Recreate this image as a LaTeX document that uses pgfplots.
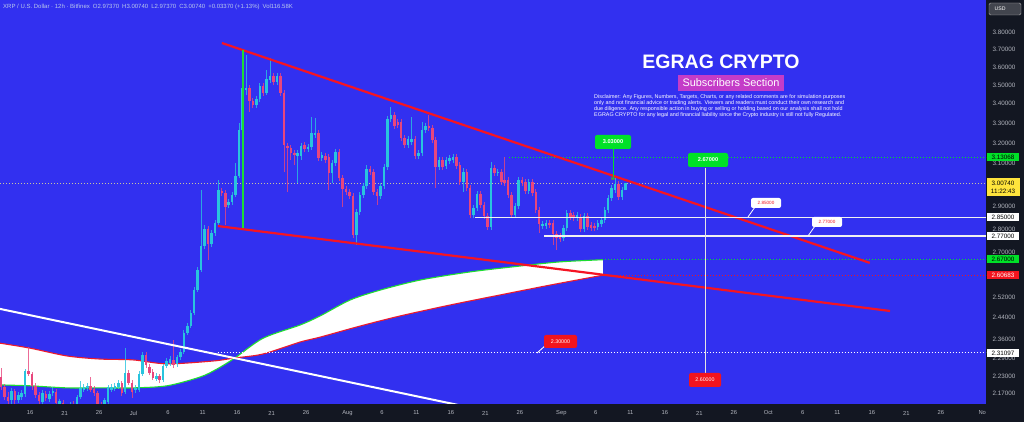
\documentclass[border=0pt]{standalone}
\usepackage{fontspec}
\setmainfont{Liberation Sans}
\usepackage{pgfplots}
\usepackage{pgfplotstable}
\pgfplotsset{compat=1.18}
\usepgfplotslibrary{fillbetween}

\definecolor{bgblue}{RGB}{50,48,240}
\definecolor{panel}{RGB}{19,23,34}
\definecolor{axistext}{RGB}{178,181,190}
\definecolor{upc}{RGB}{41,196,222}
\definecolor{dnc}{RGB}{232,70,125}
\definecolor{trendred}{RGB}{245,20,35}
\definecolor{bandgreen}{RGB}{30,220,50}
\definecolor{bandred}{RGB}{235,25,45}
\definecolor{lblgreen}{RGB}{0,225,40}
\definecolor{lblred}{RGB}{242,20,30}
\definecolor{lblyellow}{RGB}{255,228,60}
\definecolor{magbox}{RGB}{196,60,200}
\definecolor{dotgray}{RGB}{200,195,160}
\definecolor{headtext}{RGB}{185,200,235}

% 12h candles: d = day counted from 1 June, wick top, body top, body bottom, wick bottom
\pgfplotstableread{
d wt bt bb wb
13.3 2.189 2.179 2.148 2.135
14.3 2.175 2.165 2.148 2.138
14.8 2.182 2.172 2.158 2.148
15.3 2.254 2.247 2.168 2.158
17.8 2.182 2.172 2.141 2.131
18.8 2.179 2.168 2.151 2.141
19.3 2.192 2.179 2.172 2.162
20.3 2.151 2.145 2.128 2.115
21.8 2.141 2.131 2.118 2.108
22.8 2.165 2.158 2.131 2.122
23.3 2.213 2.189 2.158 2.151
23.8 2.202 2.192 2.182 2.175
24.3 2.206 2.196 2.189 2.179
26.8 2.155 2.148 2.131 2.118
27.3 2.199 2.192 2.141 2.135
27.8 2.202 2.192 2.182 2.175
28.3 2.206 2.196 2.185 2.179
28.8 2.216 2.206 2.192 2.185
29.8 2.328 2.240 2.175 2.168
31.3 2.199 2.189 2.182 2.172
31.8 2.247 2.236 2.182 2.175
32.3 2.314 2.304 2.236 2.230
34.3 2.240 2.230 2.219 2.213
35.3 2.272 2.264 2.216 2.209
35.8 2.293 2.282 2.264 2.257
36.3 2.300 2.289 2.275 2.264
37.3 2.304 2.296 2.272 2.261
37.8 2.325 2.314 2.296 2.286
38.3 2.394 2.383 2.314 2.307
38.8 2.421 2.409 2.383 2.376
39.3 2.470 2.459 2.409 2.402
39.8 2.559 2.547 2.459 2.451
40.3 2.640 2.628 2.547 2.539
40.8 2.975 2.727 2.628 2.620
41.3 2.818 2.800 2.727 2.714
42.3 2.796 2.783 2.736 2.723
42.8 2.839 2.826 2.783 2.770
43.3 3.021 2.975 2.826 2.818
44.8 2.934 2.920 2.907 2.893
45.3 2.966 2.952 2.920 2.907
45.8 3.102 3.040 2.952 2.943
46.3 3.301 3.265 3.040 3.030
46.8 3.696 3.485 3.265 3.255
47.3 3.668 3.485 3.474 3.447
48.8 3.442 3.425 3.394 3.378
49.3 3.512 3.496 3.425 3.410
50.3 3.583 3.534 3.458 3.447
50.8 3.650 3.550 3.528 3.512
51.8 3.567 3.550 3.517 3.501
54.8 3.165 3.150 3.136 3.007
55.3 3.200 3.185 3.136 3.116
56.3 3.195 3.180 3.170 3.155
56.8 3.332 3.250 3.180 3.165
57.3 3.326 3.250 3.240 3.225
58.3 3.155 3.140 3.126 3.111
59.8 3.116 3.102 3.054 3.007
60.3 3.170 3.155 3.102 3.087
63.3 2.889 2.875 2.774 2.732
63.8 2.966 2.952 2.875 2.862
64.3 3.007 2.993 2.952 2.938
64.8 3.092 3.073 2.993 2.980
66.8 3.007 2.993 2.947 2.934
67.3 3.097 3.082 2.993 2.980
67.8 3.337 3.321 3.082 3.068
68.3 3.384 3.342 3.321 3.306
70.8 3.235 3.220 3.190 3.175
71.3 3.332 3.220 3.205 3.190
72.3 3.165 3.150 3.136 3.121
72.8 3.306 3.265 3.150 3.136
73.3 3.301 3.285 3.265 3.250
75.3 3.131 3.116 3.082 3.068
76.3 3.131 3.116 3.087 3.073
76.8 3.141 3.126 3.111 3.097
77.3 3.146 3.131 3.116 3.102
78.8 3.078 3.059 3.012 2.966
80.3 2.907 2.893 2.862 2.848
80.8 2.970 2.957 2.893 2.880
82.8 3.107 3.078 2.809 2.796
83.8 3.073 3.059 3.054 3.040
86.3 2.916 2.902 2.862 2.848
86.8 3.035 3.021 2.902 2.889
88.3 3.026 3.012 2.970 2.957
90.3 2.835 2.822 2.813 2.800
90.8 2.839 2.826 2.813 2.800
93.3 2.818 2.805 2.762 2.749
93.8 2.884 2.871 2.805 2.792
95.3 2.875 2.862 2.848 2.835
96.3 2.871 2.857 2.800 2.787
98.3 2.839 2.826 2.809 2.796
98.8 2.853 2.839 2.822 2.809
99.3 2.898 2.884 2.839 2.826
99.8 2.952 2.938 2.884 2.871
100.3 2.998 2.984 2.938 2.925
100.8 3.030 3.002 2.975 2.961
101.8 2.989 2.975 2.943 2.929
102.3 3.0074 3.0074 2.9737 2.9737
}\upcandles

\pgfplotstableread{
d wt bt bb wb
11.8 2.257 2.226 2.192 2.182
12.3 2.202 2.192 2.158 2.148
12.8 2.175 2.158 2.145 2.128
13.8 2.185 2.179 2.148 2.131
15.8 2.332 2.247 2.236 2.230
16.3 2.243 2.236 2.196 2.182
16.8 2.206 2.196 2.165 2.155
17.3 2.175 2.165 2.145 2.128
18.3 2.179 2.168 2.155 2.145
19.8 2.185 2.175 2.138 2.125
20.8 2.148 2.138 2.122 2.108
21.3 2.135 2.128 2.115 2.105
22.3 2.145 2.135 2.122 2.112
24.8 2.226 2.196 2.182 2.175
25.3 2.196 2.185 2.172 2.162
25.8 2.179 2.172 2.131 2.115
26.3 2.141 2.131 2.118 2.108
29.3 2.213 2.206 2.172 2.162
30.3 2.250 2.240 2.206 2.199
30.8 2.216 2.206 2.175 2.155
32.8 2.314 2.304 2.268 2.257
33.3 2.272 2.261 2.240 2.233
33.8 2.254 2.243 2.223 2.216
34.8 2.236 2.230 2.216 2.206
36.8 2.357 2.286 2.268 2.257
41.8 2.813 2.800 2.736 2.669
43.8 2.984 2.970 2.961 2.947
44.3 2.975 2.961 2.898 2.818
47.8 3.501 3.485 3.415 3.358
48.3 3.431 3.415 3.394 3.378
49.8 3.512 3.496 3.458 3.442
51.3 3.567 3.550 3.517 3.501
52.3 3.567 3.550 3.458 3.442
52.8 3.474 3.458 3.190 3.059
53.3 3.200 3.185 3.175 2.966
53.8 3.190 3.175 3.150 3.116
54.3 3.165 3.150 3.140 3.092
55.8 3.205 3.190 3.170 3.155
57.8 3.265 3.250 3.126 3.111
58.8 3.150 3.136 3.116 3.102
59.3 3.146 3.131 3.054 2.975
60.8 3.170 3.155 3.030 3.016
61.3 3.044 3.030 2.980 2.898
61.8 2.993 2.980 2.966 2.952
62.3 2.980 2.966 2.947 2.934
62.8 2.961 2.947 2.774 2.762
65.3 3.087 3.073 3.059 3.044
65.8 3.073 3.059 2.966 2.952
66.3 2.980 2.966 2.947 2.907
68.8 3.358 3.342 3.285 3.270
69.3 3.321 3.306 3.290 3.275
69.8 3.321 3.306 3.225 3.210
70.3 3.240 3.225 3.190 3.175
71.8 3.235 3.220 3.136 3.121
73.8 3.342 3.285 3.275 3.260
74.3 3.290 3.275 3.215 3.200
74.8 3.230 3.215 3.082 2.984
75.8 3.131 3.116 3.082 3.068
77.8 3.146 3.131 3.087 3.073
78.3 3.107 3.092 3.012 2.998
79.3 3.073 3.059 2.984 2.970
79.8 2.998 2.984 2.862 2.848
81.3 2.970 2.957 2.907 2.893
81.8 2.920 2.907 2.857 2.844
82.3 2.871 2.857 2.809 2.796
83.3 3.092 3.078 3.054 3.040
84.3 3.073 3.059 3.012 2.998
84.8 3.131 3.021 3.007 2.993
85.3 3.035 3.021 2.952 2.938
85.8 2.966 2.952 2.862 2.848
87.3 3.035 3.021 3.007 2.993
87.8 3.026 3.012 2.970 2.957
88.8 3.026 3.012 2.961 2.947
89.3 2.980 2.966 2.884 2.871
89.8 2.898 2.884 2.822 2.783
91.3 2.839 2.826 2.818 2.805
91.8 2.839 2.826 2.779 2.732
92.3 2.792 2.779 2.762 2.710
92.8 2.783 2.770 2.757 2.744
94.3 2.884 2.871 2.853 2.839
94.8 2.875 2.862 2.848 2.835
95.8 2.866 2.853 2.800 2.787
96.8 2.871 2.857 2.809 2.796
97.3 2.830 2.818 2.805 2.792
97.8 2.826 2.813 2.805 2.792
101.3 3.016 3.002 2.943 2.929
}\downcandles

% band edges of the indicator
\pgfplotstableread{
d g
11.65 2.199
16.0 2.196
21.36 2.189
26.14 2.189
30.93 2.189
35.85 2.196
40.64 2.226
43.1 2.254
45.71 2.293
49.77 2.364
55.13 2.413
58.03 2.447
62.37 2.508
66.72 2.547
72.52 2.587
79.77 2.620
87.01 2.644
92.81 2.661
99.04 2.670
}\greenedge
\pgfplotstableread{
d r
11.65 2.346
16.0 2.328
21.36 2.300
26.14 2.289
30.93 2.286
35.85 2.272
42.52 2.282
45.71 2.293
49.77 2.307
55.13 2.350
58.03 2.368
63.83 2.409
69.62 2.447
76.87 2.489
84.11 2.528
91.36 2.567
99.04 2.60683
}\rededge

\newcommand\drawcandles[3]{%
  \pgfplotstablegetrowsof{#1}%
  \pgfmathtruncatemacro\nrows{\pgfplotsretval-1}%
  \pgfplotsforeachungrouped \ci in {0,...,\nrows}{%
    \pgfplotstablegetelem{\ci}{d}\of#1\let\cD\pgfplotsretval
    \pgfplotstablegetelem{\ci}{wt}\of#1\let\cWT\pgfplotsretval
    \pgfplotstablegetelem{\ci}{bt}\of#1\let\cBT\pgfplotsretval
    \pgfplotstablegetelem{\ci}{bb}\of#1\let\cBB\pgfplotsretval
    \pgfplotstablegetelem{\ci}{wb}\of#1\let\cWB\pgfplotsretval
    \edef\tmp{\noexpand\addplot[#2] coordinates {(\cD,\cWB) (\cD,\cWT)};%
      \noexpand\addplot[#3] coordinates {(\cD,\cBB) (\cD,\cBT)};}%
    \tmp}}

\newcommand\pxfont{\fontsize{6.3}{7}\selectfont}
\newcommand\datefont{\fontsize{5.8}{6.5}\selectfont}

\begin{document}
\begin{tikzpicture}
% dark price and time panels (kept off the plot area, which sits on lower layers)
\fill[panel] (986pt,0) rectangle (1024pt,422pt);
\fill[panel] (0,0) rectangle (986pt,18pt);
\begin{axis}[
  at={(0pt,18pt)}, anchor=south west,
  width=986pt, height=404pt, scale only axis,
  xmin=11.65, xmax=154.55,
  ymode=log, ymin=2.135, ymax=3.994,
  axis background/.style={fill=bgblue},
  axis line style={draw=none}, major tick length=0pt, tick style={draw=none},
  xtick={16,21,26,31,36,41,46,51,56,62,67,72,77,82,87,93,98,103,108,113,118,123,128,133,138,143,148,154},
  xticklabels={16,21,26,Jul,6,11,16,21,26,Aug,6,11,16,21,26,Sep,6,11,16,21,26,Oct,6,11,16,21,26,No},
  xticklabel style={font=\datefont, text=axistext, anchor=center, yshift=-9pt},
  ytick={3.8,3.7,3.6,3.5,3.4,3.3,3.2,3.1,2.9,2.8,2.7,2.52,2.44,2.36,2.29,2.23,2.17},
  yticklabels={3.80000,3.70000,3.60000,3.50000,3.40000,3.30000,3.20000,3.10000,2.90000,2.80000,2.70000,2.52000,2.44000,2.36000,2.29000,2.23000,2.17000},
  yticklabel pos=right,
  yticklabel style={font=\pxfont, text=axistext, anchor=center, xshift=18pt},
  upwick/.style={draw=upc, line width=0.8pt, opacity=0.8, forget plot},
  upbody/.style={draw=upc, line width=2.5pt, forget plot},
  dnwick/.style={draw=dnc, line width=0.8pt, opacity=0.8, forget plot},
  dnbody/.style={draw=dnc, line width=2.5pt, forget plot},
]
% indicator band
\addplot[draw=none, name path=gband, smooth] table[x=d, y=g] {\greenedge};
\addplot[draw=none, name path=rband, smooth] table[x=d, y=r] {\rededge};
\addplot[white] fill between[of=gband and rband];
\addplot[bandgreen, line width=1.1pt, smooth] table[x=d, y=g] {\greenedge};
\addplot[bandred, line width=1.1pt, smooth] table[x=d, y=r] {\rededge};
% horizontal price lines
\addplot[dotgray, line width=0.8pt, dash pattern=on 1pt off 2pt] coordinates {(11.65,3.0074) (154.55,3.0074)};
\addplot[lblgreen, line width=0.8pt, dash pattern=on 1pt off 2pt] coordinates {(85.4,3.13068) (154.55,3.13068)};
\addplot[lblgreen, line width=0.8pt, dash pattern=on 1pt off 2pt] coordinates {(99.3,2.67) (154.55,2.67)};
\addplot[lblred, line width=0.8pt, dash pattern=on 1pt off 2pt] coordinates {(99.3,2.60683) (154.55,2.60683)};
\addplot[white, line width=0.8pt, dash pattern=on 1pt off 2pt] coordinates {(43.2,2.31097) (154.55,2.31097)};
% candles
\drawcandles{\upcandles}{upwick}{upbody}
\drawcandles{\downcandles}{dnwick}{dnbody}
% trend lines
\addplot[white, line width=2pt] coordinates {(11.65,2.474) (84.1,2.103)};
\addplot[trendred, line width=2.2pt] coordinates {(43.82,3.736) (137.7,2.657)};
\addplot[trendred, line width=2.2pt] coordinates {(43.24,2.813) (140.64,2.466)};
\addplot[bandgreen, line width=1.6pt] coordinates {(46.87,3.696) (46.87,2.805)};
\addplot[white!90!gray, line width=1.2pt] coordinates {(80.5,2.85) (154.55,2.85)};
\addplot[white!90!gray, line width=1.2pt] coordinates {(90.5,2.77) (154.55,2.77)};
\addplot[white!80!gray, line width=0.5pt] coordinates {(113.8,3.08) (113.8,2.24)};
\addplot[lblgreen, line width=0.6pt] coordinates {(100.5,3.17) (100.5,3.03)};
\addplot[only marks, mark=square*, mark size=1.4pt, mark options={fill=lblgreen, draw=black!60}] coordinates {(100.5,3.03)};
\end{axis}

% annotations, in pixel units measured from the top left corner
\begin{scope}[shift={(0pt,422pt)}, x=1pt, y=-1pt]
\node[anchor=west, text=headtext, font=\fontsize{6}{7}\selectfont, inner sep=0pt] at (3,7)
  {XRP / U.S. Dollar · 12h · Bitfinex\enspace O2.97370\enspace H3.00740\enspace L2.97370\enspace C3.00740\enspace +0.03370 (+1.13\%)\enspace Vol116.58K};
\node[text=white, font=\fontsize{19.5}{20}\selectfont\bfseries, inner sep=0pt] at (721,62) {EGRAG CRYPTO};
\fill[magbox] (678,75) rectangle (784,91);
\node[text=white, font=\fontsize{10.9}{12}\selectfont, inner sep=0pt] at (731,83) {Subscribers Section};
\node[anchor=north west, text=white, align=left, inner sep=0pt, font=\fontsize{5.4}{6}\selectfont] at (594,94.5)
  {Disclaimer: Any Figures, Numbers, Targets, Charts, or any related comments are for simulation purposes\\
   only and not financial advice or trading alerts. Viewers and readers must conduct their own research and\\
   due diligence. Any responsible action in buying or selling or holding based on our analysis shall not hold\\
   EGRAG CRYPTO for any legal and financial liability since the Crypto industry is still not fully Regulated.};
% labels on the chart
\fill[lblgreen, rounded corners=2pt] (595,135) rectangle (631,149);
\node[text=white, font=\fontsize{5.6}{6}\selectfont\bfseries, inner sep=0pt] at (613,142) {3.03000};
\fill[lblgreen, rounded corners=2pt] (688,153) rectangle (728,167);
\node[text=white, font=\fontsize{5.6}{6}\selectfont\bfseries, inner sep=0pt] at (708,160) {2.67000};
\fill[lblred, rounded corners=2pt] (689,373) rectangle (721,387);
\node[text=white, font=\fontsize{5.3}{6}\selectfont, inner sep=0pt] at (705,380) {2.60000};
\draw[white, line width=0.8pt] (537,353) -- (546,345);
\fill[lblred, rounded corners=2pt] (544,335) rectangle (577,348);
\node[text=white, font=\fontsize{5.3}{6}\selectfont, inner sep=0pt] at (560.5,341.5) {2.30000};
\draw[white, line width=0.8pt] (748,217) -- (755,207);
\fill[white, rounded corners=2pt] (751,198) rectangle (781,208);
\node[text=lblred, font=\fontsize{4.6}{5}\selectfont, inner sep=0pt] at (766,203) {2.85000};
\draw[white, line width=0.8pt] (808,236) -- (815,226);
\fill[white, rounded corners=2pt] (812,217) rectangle (842,227);
\node[text=lblred, font=\fontsize{4.6}{5}\selectfont, inner sep=0pt] at (827,222) {2.77000};
% price scale labels
\filldraw[fill=panel!80!white, draw=gray!60, rounded corners=1.5pt] (989,3) rectangle (1021,15);
\node[text=white, font=\fontsize{5.2}{6}\selectfont, inner sep=0pt] at (1000,9) {USD};
\fill[lblgreen] (987,153) rectangle (1019,161);
\node[text=black, font=\pxfont, inner sep=0pt] at (1003,157) {3.13068};
\fill[lblyellow] (987,178) rectangle (1020,196);
\node[text=black, font=\pxfont, inner sep=0pt] at (1003,183) {3.00740};
\node[text=black, font=\pxfont, inner sep=0pt] at (1003,191) {11:22:43};
\fill[white] (987,213) rectangle (1019,221);
\node[text=black, font=\pxfont, inner sep=0pt] at (1003,217) {2.85000};
\fill[white] (987,232) rectangle (1019,240);
\node[text=black, font=\pxfont, inner sep=0pt] at (1003,236) {2.77000};
\fill[lblgreen] (987,255) rectangle (1019,263);
\node[text=black, font=\pxfont, inner sep=0pt] at (1003,259) {2.67000};
\fill[lblred] (987,271) rectangle (1019,279);
\node[text=white, font=\pxfont, inner sep=0pt] at (1003,275) {2.60683};
\fill[white] (987,349) rectangle (1019,357);
\node[text=black, font=\pxfont, inner sep=0pt] at (1003,353) {2.31097};
\end{scope}
\pgfresetboundingbox
\path[use as bounding box] (0,0) rectangle (1024pt,422pt);
\end{tikzpicture}
\end{document}
